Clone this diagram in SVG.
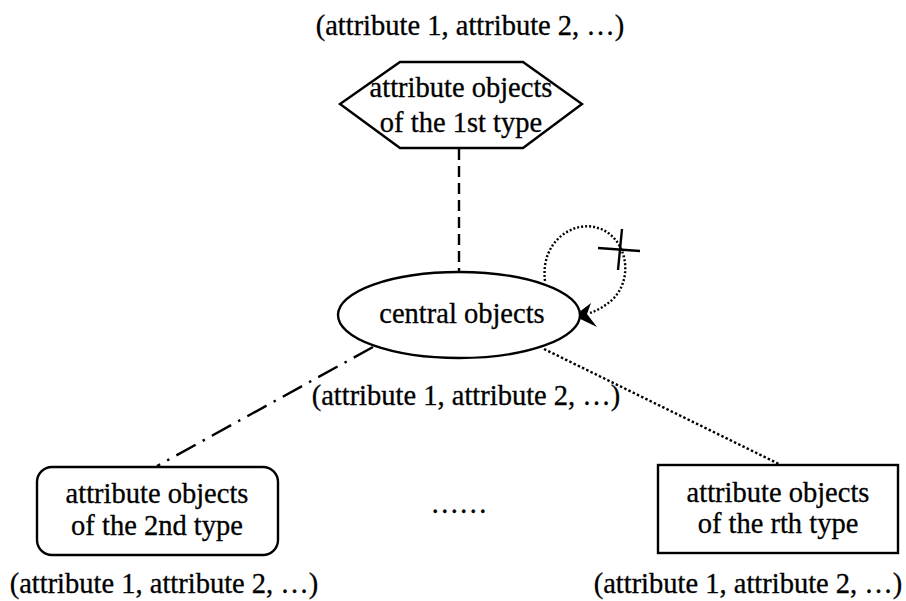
<svg xmlns="http://www.w3.org/2000/svg" width="906" height="601" viewBox="0 0 906 601">
<style>
text{font-family:"Liberation Serif","Times New Roman",serif;font-size:28.5px;fill:#000;stroke:#000;stroke-width:0.3;text-anchor:middle}
.shape{fill:#fff;stroke:#000;stroke-width:2.4}
.conn{fill:none;stroke:#000;stroke-width:2.4}
</style>
<rect width="906" height="601" fill="#fff"/>
<g id="connectors">
<line class="conn" x1="459" y1="149" x2="459" y2="272" stroke-dasharray="11,6"/>
<line class="conn" x1="373" y1="347" x2="157" y2="466" stroke-dasharray="22,8,2.5,8"/>
<line class="conn" x1="544" y1="349" x2="779" y2="464" stroke-dasharray="2.5,2.2"/>
<path class="conn" d="M545,281 C540,240 575,220 598,228 C625,236 635,275 614,298 C606,306 598,310 590,313" stroke-width="1.8" stroke-dasharray="2,2"/>
<line class="conn" x1="598" y1="248" x2="640" y2="251" stroke-width="1.6"/>
<line class="conn" x1="622" y1="229" x2="618" y2="270" stroke-width="1.6"/>
<polygon points="574,316 591,303 587,314 597,327" fill="#000"/>
</g>
<g id="node-1st">
<polygon class="shape" points="400,62 523,62 582,104 523,148 400,148 340,104"/>
<text x="461" y="97">attribute objects</text>
<text x="461" y="132">of the 1st type</text>
<text x="470" y="35">(attribute 1, attribute 2, …)</text>
</g>
<g id="node-central">
<ellipse class="shape" cx="459" cy="315" rx="121" ry="43"/>
<text x="462" y="323">central objects</text>
<text x="466" y="405">(attribute 1, attribute 2, …)</text>
</g>
<g id="node-2nd">
<rect class="shape" x="37" y="467" width="241" height="88" rx="15"/>
<text x="157" y="503">attribute objects</text>
<text x="157" y="535">of the 2nd type</text>
<text x="164" y="593">(attribute 1, attribute 2, …)</text>
</g>
<g id="node-rth">
<rect class="shape" x="658" y="465" width="240" height="88" stroke-width="3"/>
<text x="778" y="502">attribute objects</text>
<text x="778" y="533">of the rth type</text>
<text x="748" y="593">(attribute 1, attribute 2, …)</text>
</g>
<text x="459" y="513">……</text>
</svg>
